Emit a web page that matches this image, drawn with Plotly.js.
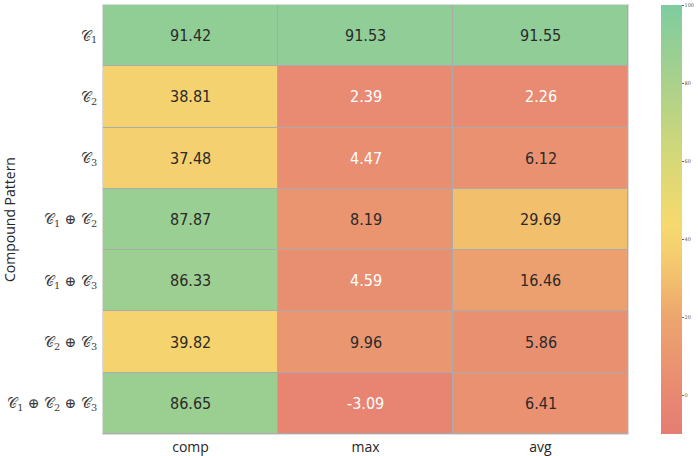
<!DOCTYPE html>
<html>
<head>
<meta charset="utf-8">
<script src="https://cdn.plot.ly/plotly-3.0.1.min.js"></script>
<style>html,body{margin:0;padding:0;background:#fff;}#chart{width:698px;height:456px;}</style>
</head>
<body>
<div id="chart"></div>
<script>
const columns = ['comp', 'max', 'avg'];
const patterns = [
  '𝒞<sub>1</sub>',
  '𝒞<sub>2</sub>',
  '𝒞<sub>3</sub>',
  '𝒞<sub>1</sub> ⊕ 𝒞<sub>2</sub>',
  '𝒞<sub>1</sub> ⊕ 𝒞<sub>3</sub>',
  '𝒞<sub>2</sub> ⊕ 𝒞<sub>3</sub>',
  '𝒞<sub>1</sub> ⊕ 𝒞<sub>2</sub> ⊕ 𝒞<sub>3</sub>'
];
const compValues = [91.42, 38.81, 37.48, 87.87, 86.33, 39.82, 86.65];
const maxValues  = [91.53, 2.39, 4.47, 8.19, 4.59, 9.96, -3.09];
const avgValues  = [91.55, 2.26, 6.12, 29.69, 16.46, 5.86, 6.41];

const z = patterns.map((p, i) => [compValues[i], maxValues[i], avgValues[i]]);

const zmin = -10, zmax = 100;
const colorscale = [
  [0.0, '#E57D73'],
  [0.091, '#E88872'],
  [0.273, '#EDA56E'],
  [0.364, '#F2C06D'],
  [0.436, '#F5D170'],
  [0.49, '#F6D96E'],
  [0.636, '#D7D877'],
  [0.818, '#AAD18B'],
  [1.0, '#7ECC9F']
];

const annotations = [];
patterns.forEach((p, i) => {
  columns.forEach((c, j) => {
    const v = z[i][j];
    annotations.push({
      x: c, y: p, xref: 'x', yref: 'y',
      text: v.toFixed(2), showarrow: false,
      font: {family: '"Liberation Sans Narrow", "DejaVu Sans Condensed", sans-serif', size: 16,
             color: v < 5 ? '#ffffff' : '#2a2a2a'}
    });
  });
});

const trace = {
  type: 'heatmap',
  x: columns, y: patterns, z: z,
  zmin: zmin, zmax: zmax,
  colorscale: colorscale,
  xgap: 1, ygap: 1,
  hoverinfo: 'skip',
  colorbar: {
    x: 1.063, xanchor: 'left', xref: 'paper', xpad: 0, ypad: 0,
    y: 0.5, yanchor: 'middle', len: 1, lenmode: 'fraction',
    thickness: 21, thicknessmode: 'pixels',
    outlinewidth: 0,
    ticks: 'outside', ticklen: 2, tickwidth: 1, tickcolor: '#666',
    tickvals: [0, 20, 40, 60, 80, 100],
    tickfont: {size: 5, color: '#555', family: 'DejaVu Serif'}
  }
};

const layout = {
  width: 698, height: 456,
  margin: {l: 103, r: 70, t: 5, b: 22, autoexpand: false},
  paper_bgcolor: '#ffffff',
  plot_bgcolor: '#ababab',
  xaxis: {
    type: 'category', showgrid: false, zeroline: false, ticks: '',
    tickfont: {family: '"Open Sans", sans-serif', size: 14, color: '#262626'},
    showline: true, linecolor: '#dcdcdc', linewidth: 1, mirror: true
  },
  yaxis: {
    type: 'category', autorange: 'reversed', showgrid: false, zeroline: false, ticks: '',
    tickfont: {family: '"DejaVu Serif", serif', size: 14, color: '#3a3a3a'},
    ticklabelstandoff: 2,
    showline: true, linecolor: '#dcdcdc', linewidth: 1, mirror: true,
    title: {text: 'Compound Pattern', standoff: 8,
            font: {family: '"Open Sans", sans-serif', size: 14, color: '#262626'}}
  },
  annotations: annotations
};

Plotly.newPlot('chart', [trace], layout, {displayModeBar: false, staticPlot: true});
</script>
</body>
</html>
